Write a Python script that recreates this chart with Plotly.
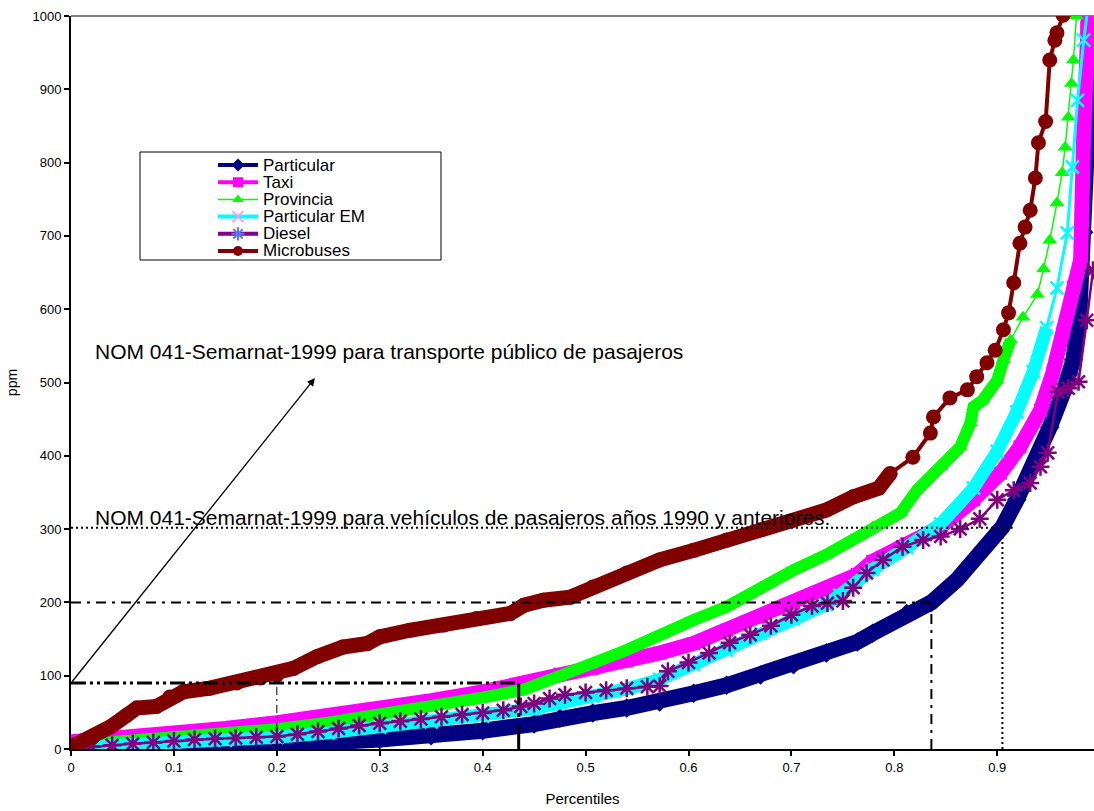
import numpy as np
import plotly.graph_objects as go

# ---- data: CO concentration (ppm) against percentile, by vehicle fleet ----
particular_x = [0, 0.05, 0.10, 0.15, 0.20, 0.25, 0.30, 0.35, 0.40, 0.45, 0.475, 0.507, 0.54, 0.572,
                0.605, 0.637, 0.67, 0.702, 0.734, 0.764, 0.779, 0.812, 0.836, 0.861, 0.886, 0.905,
                0.919, 0.935, 0.951, 0.964, 0.974, 0.980, 0.984, 0.988, 0.991, 0.994]
particular_y = [0, 1, 2, 4, 6, 9, 13, 18, 25, 34, 42, 49, 56, 64,
                76, 87, 101, 115, 131, 146, 158, 185, 200, 231, 271, 303,
                340, 385, 439, 486, 531, 600, 705, 830, 950, 1040]

taxi_x = [0, 0.05, 0.10, 0.15, 0.20, 0.25, 0.30, 0.35, 0.40, 0.45, 0.475, 0.507, 0.54, 0.572,
          0.605, 0.637, 0.67, 0.702, 0.734, 0.764, 0.779, 0.812, 0.845, 0.877, 0.903, 0.922,
          0.942, 0.954, 0.964, 0.974, 0.981, 0.984, 0.987, 0.990]
taxi_y = [10, 15, 21, 28, 36, 45, 55, 66, 78, 92, 102, 110, 120, 131,
          144, 162, 180, 199, 217, 238, 256, 280, 303, 340, 376, 412,
          462, 513, 568, 630, 667, 840, 985, 1050]

provincia_x = [0, 0.05, 0.10, 0.15, 0.20, 0.25, 0.30, 0.35, 0.40, 0.44, 0.475, 0.507, 0.54, 0.572,
               0.605, 0.637, 0.67, 0.702, 0.734, 0.76, 0.779, 0.806, 0.822, 0.845, 0.864, 0.874,
               0.877, 0.886, 0.90, 0.906, 0.913, 0.925, 0.939, 0.945, 0.951, 0.958, 0.963, 0.966,
               0.969, 0.972, 0.974, 0.977, 0.978]
provincia_y = [5, 10, 15, 21, 27, 36, 46, 57, 70, 81, 98, 117, 135, 156,
               176, 194, 221, 244, 265, 285, 303, 322, 353, 385, 412, 445,
               467, 476, 503, 531, 558, 589, 620, 655, 694, 745, 786, 821,
               862, 908, 940, 1000, 1050]

em_x = [0, 0.05, 0.10, 0.15, 0.20, 0.25, 0.30, 0.35, 0.40, 0.45, 0.475, 0.507, 0.54, 0.572,
        0.605, 0.637, 0.67, 0.702, 0.734, 0.747, 0.779, 0.812, 0.845, 0.877, 0.900, 0.919,
        0.935, 0.948, 0.958, 0.968, 0.973, 0.978, 0.984, 0.988]
em_y = [2, 5, 9, 12, 16, 22, 30, 37, 45, 55, 63, 72, 82, 95,
        115, 135, 158, 178, 197, 210, 245, 275, 307, 356, 406, 460,
        515, 575, 629, 704, 794, 885, 967, 1010]

diesel_x = [0, 0.02, 0.04, 0.06, 0.08, 0.10, 0.12, 0.14, 0.16, 0.18, 0.20, 0.22, 0.24, 0.26,
            0.28, 0.30, 0.32, 0.34, 0.36, 0.38, 0.40, 0.42, 0.437, 0.45, 0.465, 0.48, 0.50,
            0.52, 0.54, 0.56, 0.572, 0.58, 0.60, 0.62, 0.64, 0.66, 0.68, 0.70, 0.72, 0.735,
            0.75, 0.76, 0.773, 0.789, 0.808, 0.828, 0.845, 0.864, 0.883, 0.90, 0.916, 0.932,
            0.942, 0.949, 0.959, 0.969, 0.979, 0.987, 0.993]
diesel_y = [0, 3, 5, 7, 9, 11, 13, 14, 15, 16, 17, 20, 24, 28,
            32, 35, 38, 41, 44, 47, 49, 53, 58, 62, 69, 74, 77,
            80, 83, 85, 86, 106, 118, 131, 145, 156, 168, 183, 195, 199,
            202, 220, 240, 258, 276, 285, 290, 300, 314, 340, 353, 363,
            385, 404, 487, 492, 501, 585, 653]

micro_x = [0, 0.021, 0.038, 0.054, 0.064, 0.083, 0.096, 0.109, 0.135, 0.161, 0.184, 0.20,
           0.216, 0.239, 0.264, 0.288, 0.30, 0.329, 0.362, 0.394, 0.427, 0.44, 0.459, 0.485,
           0.507, 0.54, 0.572, 0.605, 0.637, 0.67, 0.702, 0.734, 0.76, 0.785, 0.796, 0.818,
           0.835, 0.838, 0.854, 0.871, 0.880, 0.890, 0.898, 0.906, 0.911, 0.916, 0.922, 0.927,
           0.932, 0.937, 0.940, 0.947, 0.951, 0.956, 0.958, 0.964]
micro_y = [3, 16, 30, 46, 56, 58, 71, 78, 83, 90, 97, 101,
           110, 126, 139, 144, 153, 162, 169, 178, 185, 196, 203, 207,
           221, 240, 258, 271, 285, 299, 312, 326, 344, 356, 376, 398,
           431, 453, 479, 490, 508, 527, 544, 572, 595, 636, 690, 712,
           735, 779, 827, 856, 940, 967, 977, 1001]

# NOM 041-Semarnat-1999 limits (ppm) and the percentile where each is reached
norm_levels = [90, 200, 302]
norm_percentiles = [0.435, 0.836, 0.905]
secondary_percentile = 0.2

x_ticks = [0, 0.1, 0.2, 0.3, 0.4, 0.5, 0.6, 0.7, 0.8, 0.9]
x_tick_labels = ["0", "0.1", "0.2", "0.3", "0.4", "0.5", "0.6", "0.7", "0.8", "0.9"]
y_ticks = [0, 100, 200, 300, 400, 500, 600, 700, 800, 900, 1000]

FONT = "Liberation Sans, Arial, sans-serif"

series = [
    dict(name="Particular", x=particular_x, y=particular_y, color="#000080",
         symbol="diamond", size=15, lw=3, band=16, band_max=1.1, open=False),
    dict(name="Taxi", x=taxi_x, y=taxi_y, color="#FF00FF",
         symbol="square", size=13, lw=3, band=15, band_max=1.1, open=False),
    dict(name="Provincia", x=provincia_x, y=provincia_y, color="#00FF00",
         symbol="triangle-up", size=13, lw=1.5, band=12, band_max=0.92, open=False),
    dict(name="Particular EM", x=em_x, y=em_y, color="#00FFFF",
         symbol="x-thin-open", size=13, lw=3, band=13, band_max=0.95, open=True),
    dict(name="Diesel", x=diesel_x, y=diesel_y, color="#800080",
         symbol="asterisk-open", size=15, lw=2.5, band=0, band_max=0, open=True),
    dict(name="Microbuses", x=micro_x, y=micro_y, color="#800000",
         symbol="circle", size=15, lw=4, band=15, band_max=0.8, open=False),
]

fig = go.Figure()

for s in series:
    xs = np.array(s["x"])
    ys = np.array(s["y"])
    if s["band"] > 0:
        m = xs <= s["band_max"]
        fig.add_trace(go.Scatter(
            x=xs[m], y=ys[m], mode="lines", showlegend=False, hoverinfo="skip",
            line=dict(color=s["color"], width=s["band"])))
    if s["open"]:
        marker = dict(symbol=s["symbol"], size=s["size"],
                      line=dict(color=s["color"], width=2.5))
    else:
        marker = dict(symbol=s["symbol"], size=s["size"], color=s["color"],
                      line=dict(width=0))
    fig.add_trace(go.Scatter(
        x=xs, y=ys, mode="lines+markers", name=s["name"], showlegend=False,
        line=dict(color=s["color"], width=s["lw"]), marker=marker))

# ---- legend, drawn on an overlay axis spanning the plot area (0..1) ----
L, R, T, B = 71, 1094, 16, 749
W, H = R - L, B - T


def px_x(p):
    return (p - L) / W


def px_y(p):
    return (B - p) / H


legend_rows = [165, 182.2, 199.4, 216.6, 233.8, 251]
sw_x0, sw_x1, sw_xm, txt_x = px_x(218), px_x(258), px_x(238), px_x(261)

for s, row in zip(series, legend_rows):
    yy = px_y(row)
    if s["open"]:
        marker = dict(symbol=s["symbol"], size=11, line=dict(color=s["color"], width=2))
    else:
        marker = dict(symbol=s["symbol"], size=10, color=s["color"], line=dict(width=0))
    fig.add_trace(go.Scatter(
        x=[sw_x0, sw_x1], y=[yy, yy], mode="lines", xaxis="x2", yaxis="y2",
        showlegend=False, hoverinfo="skip",
        line=dict(color=s["color"], width=1.5 if s["name"] == "Provincia" else 4)))
    fig.add_trace(go.Scatter(
        x=[sw_xm], y=[yy], mode="markers", xaxis="x2", yaxis="y2",
        showlegend=False, hoverinfo="skip", marker=marker))
    fig.add_annotation(x=txt_x, y=yy, xref="paper", yref="paper", text=s["name"],
                       showarrow=False, xanchor="left", yanchor="middle",
                       font=dict(family=FONT, size=17, color="black"))

shapes = [
    # legend frame
    dict(type="rect", xref="paper", yref="paper",
         x0=px_x(140), x1=px_x(441), y0=px_y(260), y1=px_y(152),
         line=dict(color="black", width=1), fillcolor="white", layer="below"),
    # top border of the plot area
    dict(type="line", xref="paper", yref="paper", x0=0, x1=1, y0=1, y1=1,
         line=dict(color="#808080", width=2), layer="below"),
]

# norm reference lines
lv90, lv200, lv302 = norm_levels
pc90, pc200, pc302 = norm_percentiles
shapes += [
    dict(type="line", x0=0, x1=pc90, y0=lv90, y1=lv90, layer="above",
         line=dict(color="black", width=3, dash="15px,4px,3px,4px,3px,4px")),
    dict(type="line", x0=pc90, x1=pc90, y0=0, y1=lv90, layer="above",
         line=dict(color="black", width=3, dash="24px,8px,4px,8px")),
    dict(type="line", x0=secondary_percentile, x1=secondary_percentile, y0=0, y1=lv90,
         layer="above", line=dict(color="black", width=1, dash="8px,4px,2px,4px")),
    dict(type="line", x0=0, x1=pc200, y0=lv200, y1=lv200, layer="above",
         line=dict(color="black", width=2, dash="10px,6px,3px,6px")),
    dict(type="line", x0=pc200, x1=pc200, y0=0, y1=lv200, layer="above",
         line=dict(color="black", width=2, dash="10px,6px,3px,6px")),
    dict(type="line", x0=0, x1=pc302 + 0.01, y0=lv302, y1=lv302, layer="above",
         line=dict(color="black", width=2, dash="2px,3px")),
    dict(type="line", x0=pc302, x1=pc302, y0=0, y1=lv302, layer="above",
         line=dict(color="black", width=2, dash="2px,3px")),
]

# arrow pointing to the public-transport label
fig.add_annotation(x=0.237, y=506, ax=0, ay=lv90, xref="x", yref="y", axref="x", ayref="y",
                   text="", showarrow=True, arrowhead=2, arrowsize=1.2, arrowwidth=1.3,
                   arrowcolor="black")

labels = [
    ("NOM 041-Semarnat-1999 para transporte público de pasajeros", 0.0214, 542),
    ("NOM 041-Semarnat-1999 para vehículos de pasajeros años 1990 y anteriores.", 0.0214, 316),
    ("NOM 041-Semarnat-1999 para vehículos de pasajeros 1991 y posteriores", -0.0039, 235),
]
for text, tx, ty in labels:
    fig.add_annotation(x=tx, y=ty, xref="x", yref="y", text=text, showarrow=False,
                       xanchor="left", yanchor="middle",
                       font=dict(family=FONT, size=21, color="black"))

axis_common = dict(showgrid=False, zeroline=False, showline=True, linecolor="black",
                   linewidth=2, ticks="outside", ticklen=5, tickwidth=1.5, tickcolor="black",
                   tickfont=dict(family=FONT, size=13, color="black"))

fig.update_layout(
    width=1094, height=811,
    margin=dict(l=L, r=1094 - R, t=T, b=811 - B),
    paper_bgcolor="white", plot_bgcolor="white",
    showlegend=False,
    shapes=shapes,
    xaxis=dict(range=[0, 0.994], tickvals=x_ticks, ticktext=x_tick_labels,
               title=dict(text="Percentiles", font=dict(family=FONT, size=15, color="black"),
                          standoff=20),
               **axis_common),
    yaxis=dict(range=[0, 1000], tickvals=y_ticks,
               title=dict(text="ppm", font=dict(family=FONT, size=14, color="black"),
                          standoff=12),
               **axis_common),
    xaxis2=dict(overlaying="x", range=[0, 1], visible=False, anchor="y2"),
    yaxis2=dict(overlaying="y", range=[0, 1], visible=False, anchor="x2"),
)

fig.write_html("out.html")
